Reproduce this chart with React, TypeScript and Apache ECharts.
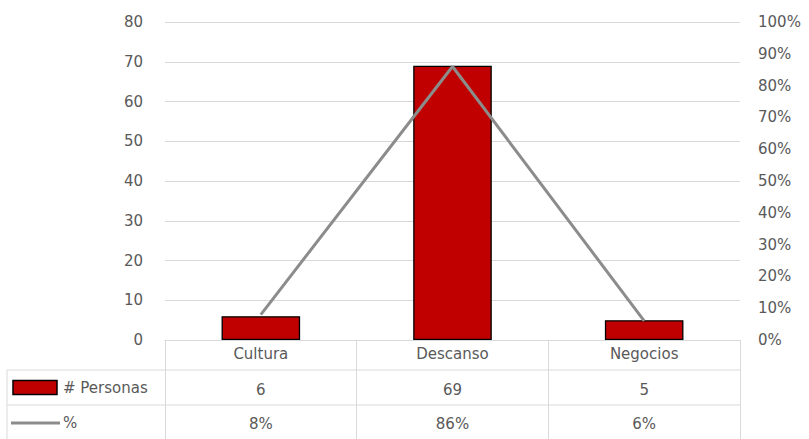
import React, { useEffect, useRef } from "react";
import * as echarts from "echarts";

// Trip purpose survey: number of people per category and their share
const categories = ["Cultura", "Descanso", "Negocios"];
const personas = [6, 69, 5];
const percentages = [8, 86, 6];
const seriesNames = ["# Personas", "%"];

const leftTicks = { min: 0, max: 80, interval: 10 };
const rightTicks = { min: 0, max: 100, interval: 10 };

const FONT = "DejaVu Sans";
const FONT_SIZE = 15;
const TEXT = "#595959";
const RULE = "#d9d9d9";
const BAR = "#c00000";
const LINE = "#8c8c8c";

const W = 809;
const H = 439;
const GRID = { left: 165, right: 69, top: 22, bottom: 99 };

export default function App() {
  const ref = useRef<HTMLDivElement>(null);

  useEffect(() => {
    if (!ref.current) return;
    const chart = echarts.init(ref.current, null, { renderer: "svg" });

    const plotRight = W - GRID.right;
    const baseY = H - GRID.bottom;
    const row1 = baseY + 30;
    const row2 = baseY + 65;
    const mid1 = (row1 + row2) / 2;
    const mid2 = (row2 + H) / 2 + 1;

    const labelStyle = { color: TEXT, fontFamily: FONT, fontSize: FONT_SIZE };

    // Data-table rows are drawn as extra category axes under the plot
    const tableAxis = (data: string[], offset: number, showRules: boolean) => ({
      type: "category",
      position: "bottom",
      offset,
      data,
      axisLine: { show: showRules, lineStyle: { color: RULE, width: 1 } },
      axisTick: {
        show: showRules,
        length: H - baseY,
        lineStyle: { color: RULE, width: 1 },
      },
      axisLabel: { margin: 6, ...labelStyle },
      splitLine: { show: false },
    });

    chart.setOption({
      animation: false,
      grid: { ...GRID, containLabel: false },
      xAxis: [
        tableAxis(categories, 0, true),
        tableAxis(personas.map(String), 36, false),
        tableAxis(percentages.map((p) => `${p}%`), 70, false),
      ],
      yAxis: [
        {
          type: "value",
          ...leftTicks,
          axisLine: { show: false },
          axisTick: { show: false },
          axisLabel: { margin: 22, ...labelStyle },
          splitLine: { lineStyle: { color: RULE, width: 1 } },
        },
        {
          type: "value",
          ...rightTicks,
          position: "right",
          axisLine: { show: false },
          axisTick: { show: false },
          axisLabel: { margin: 18, ...labelStyle, formatter: "{value}%" },
          splitLine: { show: false },
        },
      ],
      series: [
        {
          name: seriesNames[0],
          type: "bar",
          data: personas,
          barWidth: "41%",
          itemStyle: { color: BAR, borderColor: "#000000", borderWidth: 1.3 },
        },
        {
          name: seriesNames[1],
          type: "line",
          yAxisIndex: 1,
          data: percentages,
          symbol: "none",
          lineStyle: { color: LINE, width: 3 },
        },
      ],
      graphic: [
        { type: "line", shape: { x1: 7, y1: row1, x2: plotRight, y2: row1 }, style: { stroke: RULE, lineWidth: 1 } },
        { type: "line", shape: { x1: 7, y1: row2, x2: plotRight, y2: row2 }, style: { stroke: RULE, lineWidth: 1 } },
        { type: "line", shape: { x1: 7, y1: row1, x2: 7, y2: H }, style: { stroke: RULE, lineWidth: 1 } },
        // legend keys inside the table's first column
        {
          type: "rect",
          shape: { x: 13, y: mid1 - 7, width: 44, height: 14 },
          style: { fill: BAR, stroke: "#000000", lineWidth: 1.5 },
        },
        {
          type: "text",
          x: 63,
          y: mid1,
          style: { text: seriesNames[0], fill: TEXT, font: `${FONT_SIZE}px "${FONT}"`, verticalAlign: "middle" },
        },
        {
          type: "line",
          shape: { x1: 11, y1: mid2, x2: 60, y2: mid2 },
          style: { stroke: LINE, lineWidth: 3 },
        },
        {
          type: "text",
          x: 63,
          y: mid2,
          style: { text: seriesNames[1], fill: TEXT, font: `${FONT_SIZE}px "${FONT}"`, verticalAlign: "middle" },
        },
      ],
    });

    return () => chart.dispose();
  }, []);

  return (
    <div
      ref={ref}
      style={{ position: "fixed", left: 0, top: 0, width: W, height: H, background: "#ffffff" }}
    />
  );
}
